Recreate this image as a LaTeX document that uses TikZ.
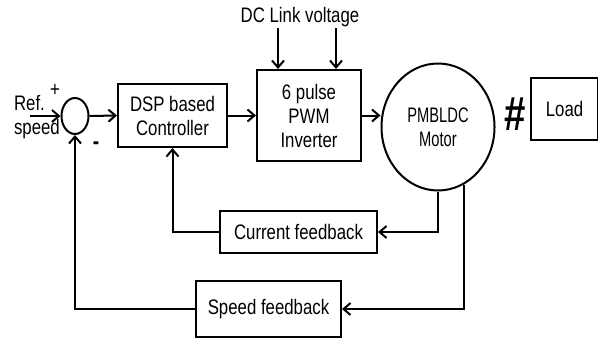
\documentclass[tikz,border=0pt]{standalone}
\usepackage{fontspec}
\setmainfont[FakeStretch=0.8]{Liberation Sans}
\newfontfamily\motorfont[FakeStretch=0.7]{Liberation Sans}
\usepackage{tikz}
\usetikzlibrary{arrows.meta,positioning,shapes.geometric}

\begin{document}
\begin{tikzpicture}[
    x=0.5pt, y=-0.5pt,
    font=\fontsize{10.5}{12}\selectfont,
    blk/.style={draw, line width=1pt, align=center, inner sep=2pt},
    sumnode/.style={draw, line width=1pt, ellipse, minimum width=13.5pt, minimum height=18pt, inner sep=0pt},
    arr/.style={-{Straight Barb[length=3.5pt,width=6pt]}, line width=1pt},
    wire/.style={line width=1pt}
  ]
  \useasboundingbox (0,0) rectangle (598,338);
  % forward path
  \node[sumnode] (sum) at (75,116) {};
  \node[anchor=west, align=left] (ref) at (7,117) {Ref.\\speed};
  \coordinate (refin) at (30,116);
  \node (plus) at (55,90) {+};
  \node[font=\fontsize{12}{12}\selectfont\bfseries] (minus) at (96,146) {-};
  \node[blk, minimum width=54.5pt, minimum height=31.5pt] (dsp) at (172.5,115.5) {DSP based\\Controller};
  \node[blk, minimum width=52pt, minimum height=45.5pt] (inv) at (309,115.5) {6 pulse\\PWM\\Inverter};
  \node[blk, ellipse, minimum width=56.5pt, minimum height=63.5pt, font=\motorfont\fontsize{10.5}{12}\selectfont] (motor) at (438,127) {PMBLDC\\Motor};
  \node[font=\fontsize{24}{24}\selectfont\bfseries] (hash) at (515,114) {\#};
  \node[blk, minimum width=33.5pt, minimum height=31pt] (load) at (564.5,109) {Load};
  \node (dc) at (300,17) {DC Link voltage};
  \coordinate (dca) at (278,28);
  \coordinate (dcb) at (336,28);
  % feedback blocks
  \node[blk, minimum width=78.5pt, minimum height=21pt] (cur) at (298.5,232) {Current feedback};
  \node[blk, minimum width=72.5pt, minimum height=28pt] (spd) at (268.5,309) {Speed feedback};
  \draw[arr] (refin) -- (sum.west);
  \draw[arr] (sum.east) -- (dsp.west);
  \draw[arr] (dsp.east) -- (inv.west);
  \draw[arr] (inv.east) -- (inv.east -| motor.west);
  \draw[arr] (dca) -- (dca |- inv.north);
  \draw[arr] (dcb) -- (dcb |- inv.north);
  \draw[arr] (motor.south) |- (cur.east);
  \draw[arr] (cur.west) -| (dsp.south);
  \draw[arr] (motor.-66) |- (spd.east);
  \draw[arr] (spd.west) -| (sum.south);
\end{tikzpicture}
\end{document}
